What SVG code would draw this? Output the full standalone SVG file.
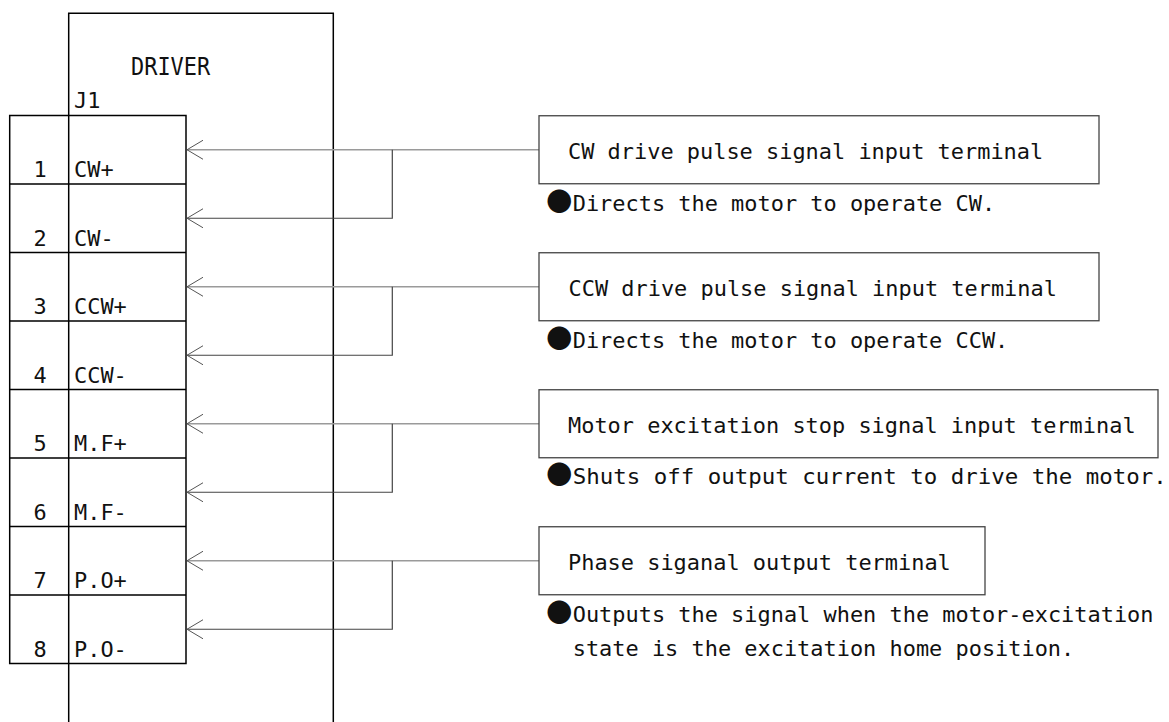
<svg xmlns="http://www.w3.org/2000/svg" width="1169" height="722" viewBox="0 0 1169 722">
<style>
.t{font-family:"DejaVu Sans Mono","Liberation Mono",monospace;font-size:22px;fill:#111}
.big{font-size:24px}
.b{font-family:"Noto Sans CJK JP","DejaVu Sans",sans-serif;font-size:26px;fill:#111}
.frame{fill:none;stroke:#000;stroke-width:1.5}
.box{fill:#fff;stroke:#444;stroke-width:1.3}
.hi{fill:none;stroke:#9a9a9a;stroke-width:1.3}
.lo{fill:none;stroke:#444;stroke-width:1.2}
</style>
<defs>
<marker id="arr" markerUnits="userSpaceOnUse" viewBox="-18 -11 20 22" markerWidth="20" markerHeight="22" refX="0" refY="0" orient="auto" overflow="visible">
<path d="M-16,-9.5 L0,0 L-16,9.5" fill="none" stroke="#555" stroke-width="1"/>
</marker>
<marker id="arrs" markerUnits="userSpaceOnUse" viewBox="-18 -11 20 22" markerWidth="20" markerHeight="22" refX="0" refY="0" orient="auto-start-reverse" overflow="visible">
<path d="M-16,-9.5 L0,0 L-16,9.5" fill="none" stroke="#555" stroke-width="1"/>
</marker>
</defs>
<rect width="1169" height="722" fill="#fff"/>

<g id="driver">
<path class="frame" d="M68.7,722 V13.3 H333.3 V722"/>
<text class="t big" x="131" y="75" textLength="79.2" lengthAdjust="spacingAndGlyphs">DRIVER</text>
<text class="t" x="74" y="108" textLength="26.4" lengthAdjust="spacingAndGlyphs">J1</text>
</g>

<g id="connector-j1">
<rect class="frame" x="9.7" y="115.5" width="176.3" height="548"/>
<path class="frame" d="M9.7,184 H186 M9.7,252.5 H186 M9.7,321 H186 M9.7,389.5 H186 M9.7,458 H186 M9.7,526.5 H186 M9.7,595 H186"/>
<g id="pin1"><text class="t" x="33.4" y="177" textLength="13.2" lengthAdjust="spacingAndGlyphs">1</text><text class="t" x="74" y="177" textLength="39.6" lengthAdjust="spacingAndGlyphs">CW+</text></g>
<g id="pin2"><text class="t" x="33.4" y="245.5" textLength="13.2" lengthAdjust="spacingAndGlyphs">2</text><text class="t" x="74" y="245.5" textLength="39.6" lengthAdjust="spacingAndGlyphs">CW-</text></g>
<g id="pin3"><text class="t" x="33.4" y="314" textLength="13.2" lengthAdjust="spacingAndGlyphs">3</text><text class="t" x="74" y="314" textLength="52.8" lengthAdjust="spacingAndGlyphs">CCW+</text></g>
<g id="pin4"><text class="t" x="33.4" y="382.5" textLength="13.2" lengthAdjust="spacingAndGlyphs">4</text><text class="t" x="74" y="382.5" textLength="52.8" lengthAdjust="spacingAndGlyphs">CCW-</text></g>
<g id="pin5"><text class="t" x="33.4" y="451" textLength="13.2" lengthAdjust="spacingAndGlyphs">5</text><text class="t" x="74" y="451" textLength="52.8" lengthAdjust="spacingAndGlyphs">M.F+</text></g>
<g id="pin6"><text class="t" x="33.4" y="519.5" textLength="13.2" lengthAdjust="spacingAndGlyphs">6</text><text class="t" x="74" y="519.5" textLength="52.8" lengthAdjust="spacingAndGlyphs">M.F-</text></g>
<g id="pin7"><text class="t" x="33.4" y="588" textLength="13.2" lengthAdjust="spacingAndGlyphs">7</text><text class="t" x="74" y="588" textLength="52.8" lengthAdjust="spacingAndGlyphs">P.O+</text></g>
<g id="pin8"><text class="t" x="33.4" y="656.5" textLength="13.2" lengthAdjust="spacingAndGlyphs">8</text><text class="t" x="74" y="656.5" textLength="52.8" lengthAdjust="spacingAndGlyphs">P.O-</text></g>
</g>

<g id="connectors">
<path class="hi" d="M539,149.75 H187" marker-end="url(#arr)"/>
<path class="lo" d="M187,218.25 H392.3 V149.75" marker-start="url(#arrs)"/>
<path class="hi" d="M539,286.75 H187" marker-end="url(#arr)"/>
<path class="lo" d="M187,355.25 H392.3 V286.75" marker-start="url(#arrs)"/>
<path class="hi" d="M539,423.75 H187" marker-end="url(#arr)"/>
<path class="lo" d="M187,492.25 H392.3 V423.75" marker-start="url(#arrs)"/>
<path class="hi" d="M539,560.75 H187" marker-end="url(#arr)"/>
<path class="lo" d="M187,629.25 H392.3 V560.75" marker-start="url(#arrs)"/>
</g>

<g id="cw-terminal">
<rect class="box" x="539" y="115.75" width="560" height="68"/>
<text class="t" x="568" y="158.5" textLength="475.2" lengthAdjust="spacingAndGlyphs">CW drive pulse signal input terminal</text>
<text y="210.5"><tspan class="b" x="546.3">●</tspan><tspan class="t" x="572.7" textLength="422.4" lengthAdjust="spacingAndGlyphs">Directs the motor to operate CW.</tspan></text>
</g>

<g id="ccw-terminal">
<rect class="box" x="539" y="252.75" width="560" height="68"/>
<text class="t" x="568.5" y="295.5" textLength="488.4" lengthAdjust="spacingAndGlyphs">CCW drive pulse signal input terminal</text>
<text y="347.5"><tspan class="b" x="546.3">●</tspan><tspan class="t" x="572.7" textLength="435.6" lengthAdjust="spacingAndGlyphs">Directs the motor to operate CCW.</tspan></text>
</g>

<g id="mf-terminal">
<rect class="box" x="539" y="389.75" width="619" height="68"/>
<text class="t" x="568" y="432.5" textLength="567.6" lengthAdjust="spacingAndGlyphs">Motor excitation stop signal input terminal</text>
<text y="483.5"><tspan class="b" x="546.3">●</tspan><tspan class="t" x="572.7" textLength="594" lengthAdjust="spacingAndGlyphs">Shuts off output current to drive the motor.</tspan></text>
</g>

<g id="po-terminal">
<rect class="box" x="539" y="526.75" width="446" height="68"/>
<text class="t" x="568" y="569.5" textLength="382.8" lengthAdjust="spacingAndGlyphs">Phase siganal output terminal</text>
<text y="621.5"><tspan class="b" x="546.3">●</tspan><tspan class="t" x="572.7" textLength="580.8" lengthAdjust="spacingAndGlyphs">Outputs the signal when the motor-excitation</tspan></text>
<text class="t" x="572.7" y="656" textLength="501.6" lengthAdjust="spacingAndGlyphs">state is the excitation home position.</text>
</g>
</svg>
